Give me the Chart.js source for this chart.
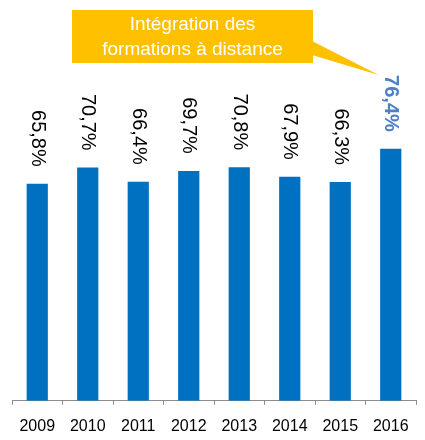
<!DOCTYPE html>
<html>
<head>
<meta charset="utf-8">
<script src="https://cdn.jsdelivr.net/npm/chart.js@4"></script>
<style>
  body { margin: 0; background: #fff; }
</style>
</head>
<body>
<canvas id="chart" width="425" height="440"></canvas>
<script>
// data
const years = ['2009', '2010', '2011', '2012', '2013', '2014', '2015', '2016'];
const rates = [65.8, 70.7, 66.4, 69.7, 70.8, 67.9, 66.3, 76.4];
const calloutLines = ['Intégration des', 'formations à distance'];

const fontFamily = "'Liberation Sans', Arial, sans-serif";

function formatPct(v) {
  return v.toFixed(1).replace('.', ',') + '%';
}

// rotated value labels above each bar (read top to bottom)
const valueLabels = {
  id: 'valueLabels',
  afterDatasetsDraw(chart) {
    const ctx = chart.ctx;
    const meta = chart.getDatasetMeta(0);
    meta.data.forEach((bar, i) => {
      const last = i === rates.length - 1;
      ctx.save();
      ctx.translate(bar.x, bar.y - 17);
      ctx.rotate(Math.PI / 2);
      ctx.font = (last ? 'bold ' : '') + '20px ' + fontFamily;
      ctx.fillStyle = last ? '#4F81C7' : '#000';
      ctx.textAlign = 'right';
      ctx.textBaseline = 'middle';
      ctx.fillText(formatPct(rates[i]), 0, 0);
      ctx.restore();
    });
  }
};

// yellow callout pointing to the last bar
const callout = {
  id: 'callout',
  afterDraw(chart) {
    const ctx = chart.ctx;
    const meta = chart.getDatasetMeta(0);
    const lastBar = meta.data[meta.data.length - 1];
    ctx.save();
    ctx.font = 'bold 20px ' + fontFamily;
    const labelLen = ctx.measureText(formatPct(rates[rates.length - 1])).width;
    const tipX = lastBar.x - 12;
    const tipY = lastBar.y - 17 - labelLen;

    const box = { x: 72, y: 10, w: 241, h: 53 };
    ctx.fillStyle = '#FFC000';
    ctx.fillRect(box.x, box.y, box.w, box.h);
    ctx.beginPath();
    ctx.moveTo(box.x + box.w - 1, 41);
    ctx.lineTo(tipX, tipY);
    ctx.lineTo(box.x + box.w - 1, 55);
    ctx.closePath();
    ctx.fill();

    ctx.fillStyle = '#fff';
    ctx.font = '19px ' + fontFamily;
    ctx.textAlign = 'center';
    ctx.textBaseline = 'middle';
    ctx.fillText(calloutLines[0], box.x + box.w / 2, 25);
    ctx.fillText(calloutLines[1], box.x + box.w / 2, 50);
    ctx.restore();
  }
};

const ctx = document.getElementById('chart').getContext('2d');

new Chart(ctx, {
  type: 'bar',
  data: {
    labels: years,
    datasets: [{
      data: rates,
      backgroundColor: '#0070C0',
      borderWidth: 0,
      categoryPercentage: 1,
      barPercentage: 0.42
    }]
  },
  options: {
    responsive: false,
    animation: false,
    layout: {
      padding: { top: 5, left: 12, right: 9, bottom: -8 }
    },
    plugins: {
      legend: { display: false },
      tooltip: { enabled: false }
    },
    scales: {
      x: {
        grid: {
          offset: true,
          drawOnChartArea: false,
          drawTicks: true,
          tickLength: 4,
          color: '#8C8C8C'
        },
        border: { display: true, color: '#8C8C8C', width: 1 },
        ticks: {
          color: '#000',
          padding: 12,
          font: { family: fontFamily, size: 16 }
        }
      },
      y: {
        display: false,
        min: 0,
        max: 120
      }
    }
  },
  plugins: [valueLabels, callout]
});
</script>
</body>
</html>
